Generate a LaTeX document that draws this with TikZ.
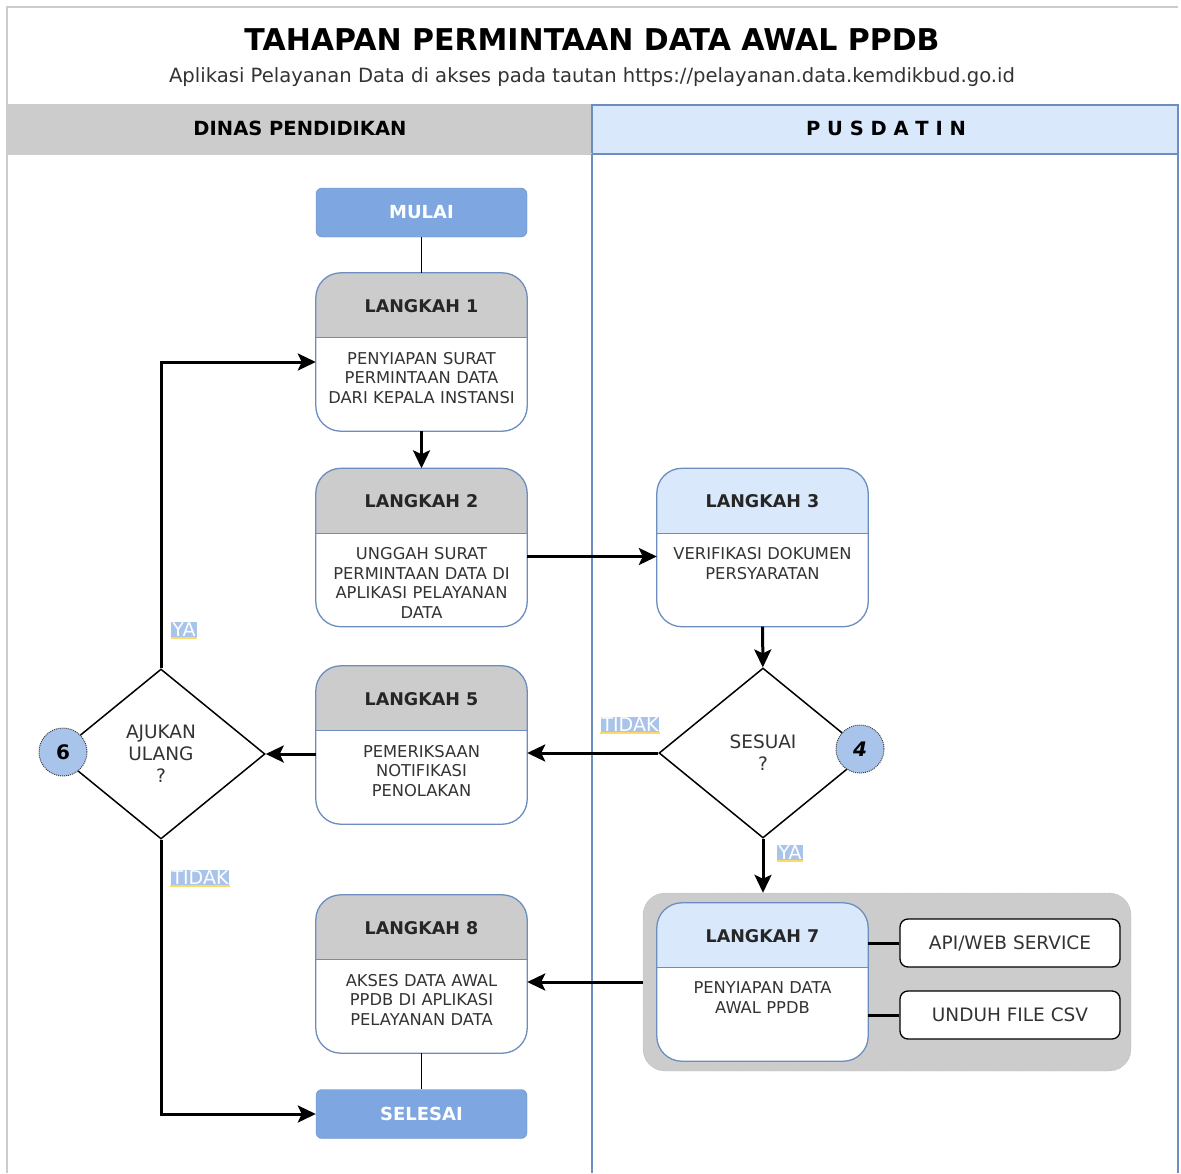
\documentclass[tikz,border=0pt]{standalone}
\usepackage{fontspec}
\setmainfont{DejaVu Sans}
\usetikzlibrary{calc,positioning,shapes.geometric,arrows.meta}
\definecolor{laneGray}{HTML}{CCCCCC}
\definecolor{laneBlue}{HTML}{DAE8FC}
\definecolor{edgeBlue}{HTML}{6C8EBF}
\definecolor{termBlue}{HTML}{7EA6E0}
\definecolor{badgeBlue}{HTML}{A9C4EB}
\definecolor{txtGray}{HTML}{333333}
\definecolor{lineYel}{HTML}{FFD966}
\tikzset{
	stepframe/.style={minimum width=211pt, minimum height=158pt, inner sep=0pt},
	steptitle/.style={font=\fontsize{17.5}{20}\selectfont\bfseries, text=black!85},
	stepbody/.style={font=\fontsize{16.3}{19.5}\selectfont, text=txtGray, text width=208pt, align=center, inner sep=0pt, anchor=north},
	term/.style={draw=edgeBlue, fill=termBlue, rounded corners=6pt, minimum width=211pt, minimum height=49pt, text=white, font=\fontsize{18}{20}\selectfont\bfseries},
	decide/.style={diamond, draw, line width=1.5pt, minimum width=208pt, minimum height=170pt, inner sep=0pt, align=center, text=txtGray, font=\fontsize{18.5}{22}\selectfont},
	badge/.style={circle, draw=black!75, densely dotted, line width=1pt, fill=badgeBlue, minimum size=48pt, inner sep=0pt, font=\fontsize{20}{22}\selectfont\bfseries},
	outbox/.style={draw, line width=1.3pt, fill=white, rounded corners=8pt, minimum width=220pt, minimum height=48pt, text=txtGray, font=\fontsize{18.5}{20}\selectfont},
	tag/.style={fill=badgeBlue, text=white, inner sep=1pt, font=\fontsize{19}{20}\selectfont},
	arr/.style={line width=3pt, -{Stealth[length=18pt,width=17pt,inset=4pt]}},
	plain/.style={line width=1.5pt},
}
% two-part step box: name, x, y, header colour, title, body
\newcommand{\langkah}[6]{%
	\node[stepframe] (#1) at (#2,#3) {};
	\begin{scope}
		\clip[rounded corners=25pt] (#1.north west) rectangle (#1.south east);
		\fill[#4] (#1.north west) rectangle ($(#1.north east)+(0,65)$);
		\fill[white] ($(#1.north west)+(0,65)$) rectangle (#1.south east);
	\end{scope}
	\draw[edgeBlue, line width=1.3pt] ($(#1.north west)+(0,65)$) -- ($(#1.north east)+(0,65)$);
	\draw[edgeBlue, line width=1.3pt, rounded corners=25pt] (#1.north west) rectangle (#1.south east);
	\node[steptitle] (#1t) at ($(#1.north)+(0,33)$) {#5};
	\node[stepbody] (#1b) at ($(#1.north)+(0,79)$) {#6};
}

\begin{document}
\begin{tikzpicture}[x=1pt, y=-1pt]
	\useasboundingbox (0,0) rectangle (1181,1173);
	%%%%% FRAME %%%%%
	\fill[white] (0,0) rectangle (1181,1173);
	\draw[laneGray, line width=1.5pt] (7,1173) -- (7,7) -- (1178,7);
	\draw[laneGray, line width=1.5pt] (7,105) -- (1178,105);
	\node[font=\fontsize{30}{34}\selectfont\bfseries] (title) at (592,40) {TAHAPAN PERMINTAAN DATA AWAL PPDB};
	\node[font=\fontsize{19.6}{22}\selectfont, text=txtGray] (subtitle) at (592,77) {Aplikasi Pelayanan Data di akses pada tautan https://pelayanan.data.kemdikbud.go.id};
	
	\draw[laneGray, fill=laneGray, line width=1.5pt] (7,105) rectangle (592,154);
	\draw[edgeBlue, fill=laneBlue, line width=1.2pt] (592,105) rectangle (1178,154);
	\node[font=\fontsize{19.5}{22}\selectfont\bfseries] (dinas) at (300,128) {DINAS PENDIDIKAN};
	\node[font=\fontsize{19.5}{22}\selectfont\bfseries] (pusdatin) at (886,128) {P U S D A T I N};
	\draw[laneGray, line width=1.5pt] (7,154) -- (592,154);
	\draw[edgeBlue, line width=1.2pt] (592,154) -- (592,1173);
	\draw[edgeBlue, line width=1.2pt] (1178,154) -- (1178,1173);
	
	%%%%% STEPS %%%%%
	\node[term] (mulai) at (421.5,212.5) {MULAI};
	\langkah{l1}{421.5}{352}{laneGray}{LANGKAH 1}{PENYIAPAN SURAT\\PERMINTAAN DATA\\DARI KEPALA INSTANSI}
	\langkah{l2}{421.5}{547.5}{laneGray}{LANGKAH 2}{UNGGAH SURAT\\PERMINTAAN DATA DI\\APLIKASI PELAYANAN\\DATA}
	\langkah{l3}{762.5}{547.5}{laneBlue}{LANGKAH 3}{VERIFIKASI DOKUMEN\\PERSYARATAN}
	\node[decide] (sesuai) at (763,753) {SESUAI\\?};
	\node[badge, font=\fontsize{20}{22}\selectfont\bfseries\itshape] (c4) at (860,749) {4};
	\langkah{l5}{421.5}{745}{laneGray}{LANGKAH 5}{PEMERIKSAAN\\NOTIFIKASI\\PENOLAKAN}
	\node[decide] (ajukan) at (161,754) {AJUKAN\\ULANG\\?};
	\node[badge] (c6) at (63,752) {6};
	
	\node[draw=black!40, densely dotted, fill=laneGray, rounded corners=22pt, minimum width=488pt, minimum height=178pt] (grp) at (887,982) {};
	\langkah{l7}{762.5}{982}{laneBlue}{LANGKAH 7}{PENYIAPAN DATA\\AWAL PPDB}
	\node[outbox] (api) at (1010,943) {API/WEB SERVICE};
	\node[outbox] (csv) at (1010,1015) {UNDUH FILE CSV};
	\langkah{l8}{421.5}{974}{laneGray}{LANGKAH 8}{AKSES DATA AWAL\\PPDB DI APLIKASI\\PELAYANAN DATA}
	\node[term] (selesai) at (421.5,1114) {SELESAI};
	
	%%%%% CONNECTORS %%%%%
	\draw[plain] (mulai) -- (l1);
	\draw[arr] (l1) -- (l2);
	\draw[arr] ([yshift=-9pt]l2.east) -- ([yshift=-9pt]l3.west);
	\draw[arr] (l3) -- (sesuai);
	\draw[arr] (sesuai.west) -- (sesuai.west -| l5.east);
	\draw[arr] (sesuai.south) -- (grp.north -| sesuai.south);
	\draw[arr] (l5.west |- ajukan.east) -- (ajukan.east);
	\draw[arr] (ajukan.north) |- ([yshift=-10pt]l1.west);
	\draw[arr] (ajukan.south) |- (selesai.west);
	\draw[arr] (grp.west) -- (grp.west -| l8.east);
	\draw[plain] (l8) -- (selesai);
	\draw[line width=3pt] (l7.east |- api) -- (api.west);
	\draw[line width=3pt] (l7.east |- csv) -- (csv.west);
	
	%%%%% LABELS %%%%%
	\node[tag] (ya1) at (184,630) {YA};
	\node[tag] (tidak1) at (630,725) {TIDAK};
	\node[tag] (ya2) at (790,853) {YA};
	\node[tag] (tidak2) at (200,878) {TIDAK};
	\foreach \t in {ya1,tidak1,ya2,tidak2}
		\draw[lineYel, line width=1.5pt] (\t.south west) -- (\t.south east);
\end{tikzpicture}
\end{document}
